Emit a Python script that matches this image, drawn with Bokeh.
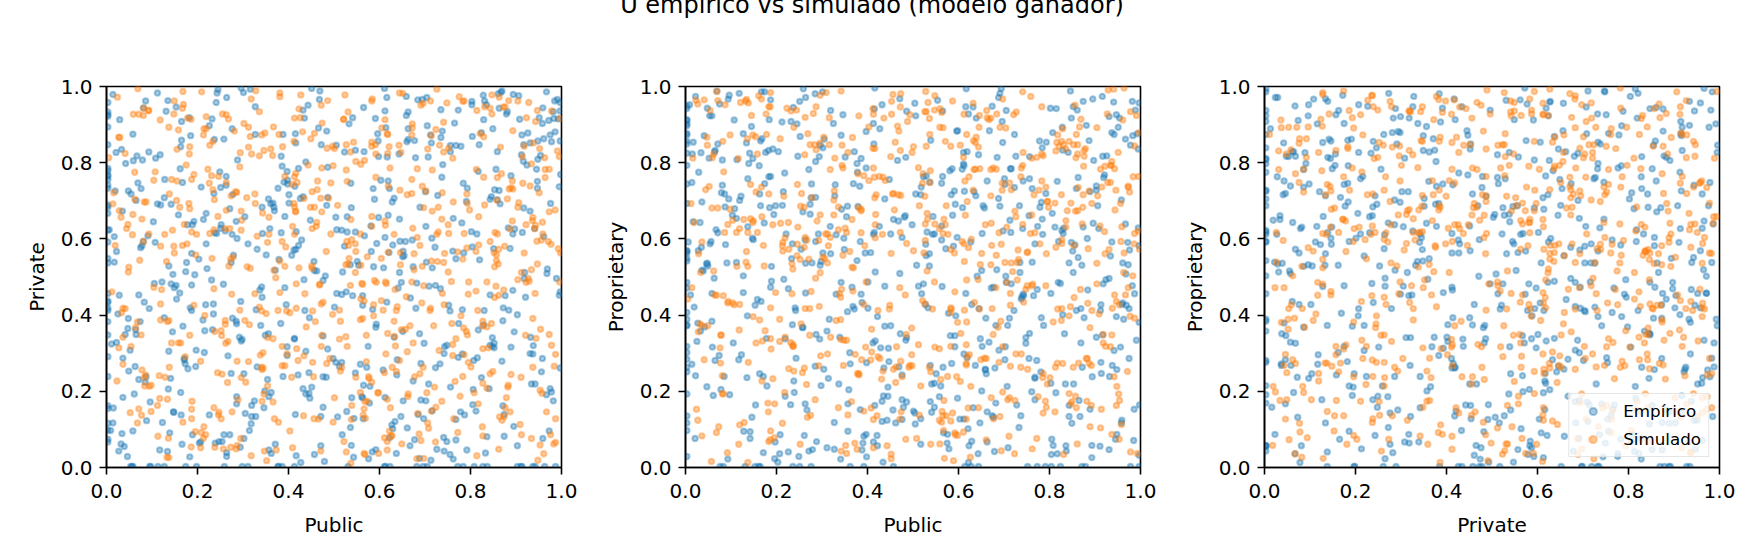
from bokeh.plotting import figure
from bokeh.layouts import column, row
from bokeh.models import (ColumnDataSource, Div, FixedTicker, PrintfTickFormatter,
                          Range1d, Legend, LegendItem)
from bokeh.embed import file_html
from bokeh.resources import INLINE

# --- Data (pseudo-observations, stored in thousandths)
TITLE = "U empírico vs simulado (modelo ganador)"
PAIRS = [("Public", "Private"), ("Public", "Proprietary"), ("Private", "Proprietary")]
SERIES = ["Empírico", "Simulado"]
TICKS = [0.0, 0.2, 0.4, 0.6, 0.8, 1.0]

EMP_PUBLIC = [
    412, 87, 765, 3, 538, 921, 264, 679, 145, 853, 331, 58, 997, 476, 702, 189, 614, 938, 247, 820,
    563, 128, 3, 894, 371, 645, 22, 756, 483, 219, 968, 305, 837, 591, 74, 426, 688, 153, 912, 267,
    735, 41, 359, 806, 3, 622, 174, 947, 501, 286, 869, 113, 438, 781, 654, 9, 327, 572, 236, 995,
    184, 659, 903, 342, 517, 67, 778, 3, 451, 233, 846, 612, 95, 388, 726, 975, 161, 544, 817, 298,
    865, 318, 3, 592, 137, 704, 421, 959, 252, 680, 36, 533, 889, 174, 407, 748, 611, 83, 276, 931,
    457, 722, 208, 3, 961, 346, 585, 119, 803, 674, 52, 390, 937, 258, 506, 163, 779, 641, 997, 29,
    619, 94, 871, 432, 3, 287, 756, 543, 196, 918, 369, 705, 14, 484, 632, 851, 241, 127, 978, 563,
    302, 986, 517, 149, 661, 3, 829, 413, 75, 748, 235, 598, 903, 366, 171, 694, 457, 812, 47, 586,
    773, 215, 648, 3, 392, 934, 108, 551, 286, 867, 471, 19, 715, 623, 342, 956, 189, 804, 529, 61,
    146, 528, 3, 893, 277, 660, 417, 982, 85, 734, 356, 611, 219, 848, 505, 32, 967, 398, 752, 264,
    889, 361, 713, 58, 3, 476, 192, 627, 945, 235, 803, 554, 127, 691, 414, 997, 276, 869, 6, 538,
    422, 71, 958, 608, 319, 3, 774, 245, 519, 836, 163, 682, 397, 914, 48, 578, 742, 131, 285, 652,
    697, 238, 476, 3, 861, 122, 579, 931, 357, 714, 17, 446, 808, 263, 629, 983, 171, 504, 392, 79,
    35, 815, 566, 294, 3, 739, 187, 652, 908, 413, 261, 973, 537, 97, 682, 354, 824, 148, 469, 716,
    541, 906, 136, 3, 784, 427, 663, 218, 852, 65, 319, 597, 987, 176, 733, 448, 25, 879, 302, 617,
    258, 647, 3, 395, 942, 81, 523, 768, 167, 896, 434, 311, 707, 581, 46, 828, 197, 969, 362, 689,
    824, 377, 709, 165, 3, 547, 292, 978, 438, 621, 112, 863, 53, 755, 498, 226, 644, 916, 331, 584,
    107, 592, 3, 843, 368, 716, 249, 481, 926, 63, 637, 802, 154, 413, 997, 278, 539, 871, 21, 762,
    659, 221, 874, 3, 506, 33, 937, 384, 762, 142, 593, 298, 841, 677, 416, 959, 88, 723, 251, 486,
    383, 948, 158, 612, 3, 830, 471, 69, 703, 296, 547, 185, 963, 422, 634, 11, 791, 337, 874, 232,
    728, 49, 466, 3, 895, 271, 609, 153, 817, 561, 384, 942, 103, 677, 243, 989, 512, 76, 351, 848,
    204, 672, 932, 415, 3, 558, 86, 787, 341, 883, 127, 603, 259, 756, 472, 39, 951, 194, 628, 805,
    917, 325, 587, 3, 742, 182, 436, 856, 58, 688, 991, 279, 531, 401, 141, 814, 663, 362, 28, 773,
    563, 135, 3, 807, 288, 651, 947, 479, 213, 738, 96, 386, 872, 565, 311, 698, 164, 924, 445, 17,
    81, 743, 398, 967, 3, 616, 254, 523, 179, 887, 432, 705, 56, 339, 792, 598, 231, 975, 663, 118,
    476, 859, 212, 3, 644, 998, 327, 71, 782, 536, 165, 913, 401, 274, 691, 833, 14, 567, 349, 737,
    632, 27, 785, 445, 3, 356, 897, 142, 616, 263, 958, 508, 784, 93, 429, 187, 741, 881, 304, 565,
    296, 917, 541, 3, 183, 768, 432, 657, 54, 829, 371, 239, 985, 613, 147, 486, 702, 36, 876, 388,
    849, 173, 3, 622, 961, 397, 105, 735, 518, 285, 674, 827, 42, 456, 993, 216, 589, 328, 761, 134,
    379, 612, 884, 207, 3, 529, 768, 64, 948, 451, 316, 187, 696, 843, 575, 22, 264, 913, 638, 417,
    708, 251, 438, 3, 835, 139, 995, 582, 357, 668, 91, 772, 504, 226, 919, 415, 643, 168, 301, 859,
    162, 893, 667, 343, 3, 712, 48, 486, 831, 564, 203, 954, 377, 117, 619, 782, 295, 443, 982, 536,
    527, 34, 976, 3, 462, 286, 819, 639, 178, 397, 755, 911, 65, 594, 237, 843, 348, 701, 123, 468,
    941, 416, 137, 685, 3, 257, 576, 863, 329, 78, 723, 484, 198, 972, 651, 386, 15, 804, 547, 271,
    314, 768, 596, 3, 112, 931, 242, 447, 684, 852, 59, 378, 517, 793, 166, 997, 629, 274, 903, 435,
]
EMP_PRIVATE = [
    571, 238, 904, 116, 682, 447, 39, 813, 356, 729, 264, 3, 958, 491, 175, 637, 892, 320, 68, 545,
    183, 756, 412, 979, 61, 594, 328, 845, 237, 667, 509, 142, 3, 916, 383, 706, 24, 478, 821, 293,
    866, 349, 627, 205, 933, 78, 514, 751, 421, 186, 988, 3, 305, 642, 556, 97, 874, 263, 719, 452,
    419, 924, 57, 683, 276, 818, 146, 537, 995, 362, 711, 604, 3, 239, 48, 873, 458, 129, 777, 336,
    692, 115, 847, 368, 529, 971, 243, 76, 637, 418, 184, 902, 766, 3, 557, 321, 995, 434, 612, 852,
    34, 578, 736, 291, 863, 157, 415, 689, 952, 527, 308, 749, 3, 86, 624, 197, 843, 471, 261, 913,
    752, 417, 162, 938, 383, 601, 829, 27, 265, 496, 674, 3, 117, 883, 342, 574, 958, 708, 198, 451,
    246, 881, 623, 472, 104, 756, 913, 339, 577, 68, 429, 816, 3, 694, 282, 966, 517, 148, 365, 732,
    938, 302, 486, 74, 659, 219, 812, 541, 377, 985, 134, 726, 602, 3, 447, 251, 86, 869, 618, 193,
    507, 147, 779, 613, 392, 855, 31, 934, 224, 469, 705, 3, 587, 318, 846, 62, 191, 754, 426, 971,
    316, 692, 19, 875, 549, 238, 646, 112, 783, 403, 961, 531, 3, 177, 738, 461, 889, 279, 624, 58,
    785, 453, 903, 256, 134, 667, 378, 992, 513, 81, 842, 3, 294, 617, 726, 169, 43, 935, 384, 568,
    128, 616, 345, 741, 981, 487, 213, 673, 46, 852, 539, 393, 3, 764, 102, 916, 286, 657, 472, 807,
    673, 288, 829, 53, 418, 795, 562, 175, 914, 337, 621, 96, 746, 3, 484, 231, 879, 145, 988, 524,
    451, 976, 206, 592, 746, 13, 889, 427, 314, 701, 163, 857, 3, 538, 272, 649, 403, 928, 76, 815,
    862, 134, 689, 427, 219, 944, 581, 72, 748, 356, 493, 3, 815, 634, 29, 977, 308, 521, 197, 683,
    236, 733, 476, 908, 67, 618, 342, 855, 193, 564, 983, 727, 3, 411, 286, 138, 652, 804, 573, 41,
    591, 47, 958, 321, 683, 149, 776, 503, 878, 265, 37, 619, 442, 3, 936, 717, 183, 385, 827, 654,
    974, 522, 139, 764, 457, 835, 298, 616, 22, 691, 376, 3, 207, 858, 572, 944, 123, 478, 735, 311,
    378, 809, 663, 184, 926, 412, 57, 747, 539, 996, 248, 871, 3, 583, 121, 324, 698, 466, 82, 915,
    714, 253, 891, 437, 108, 679, 524, 946, 361, 186, 817, 3, 645, 73, 983, 496, 265, 732, 558, 341,
    64, 597, 342, 876, 733, 271, 962, 138, 474, 629, 393, 754, 3, 211, 847, 55, 918, 506, 697, 165,
    847, 175, 527, 684, 299, 918, 412, 783, 96, 351, 966, 557, 3, 716, 234, 613, 861, 37, 452, 289,
    426, 963, 98, 281, 807, 553, 733, 16, 651, 883, 172, 3, 419, 945, 587, 326, 138, 794, 249, 606,
    593, 317, 744, 986, 162, 434, 68, 828, 259, 575, 711, 897, 3, 373, 46, 656, 492, 207, 933, 821,
    158, 829, 387, 623, 512, 769, 947, 231, 414, 105, 859, 3, 694, 538, 273, 38, 979, 608, 347, 762,
    707, 43, 563, 195, 894, 351, 626, 482, 971, 741, 286, 133, 3, 828, 597, 412, 79, 934, 658, 216,
    332, 681, 918, 457, 28, 845, 207, 593, 718, 374, 518, 64, 962, 3, 146, 788, 633, 287, 451, 874,
    889, 272, 155, 732, 606, 317, 483, 939, 86, 646, 227, 3, 798, 541, 915, 359, 704, 134, 568, 42,
    546, 936, 413, 67, 785, 658, 126, 362, 857, 211, 993, 479, 3, 704, 318, 567, 29, 873, 243, 619,
    219, 628, 802, 348, 952, 91, 737, 567, 186, 445, 608, 3, 276, 897, 512, 139, 823, 371, 984, 703,
    784, 465, 57, 614, 239, 873, 391, 709, 962, 128, 547, 819, 3, 46, 662, 298, 436, 951, 175, 532,
    461, 89, 693, 922, 516, 167, 847, 283, 637, 777, 34, 3, 349, 588, 861, 453, 201, 724, 118, 966,
    627, 852, 305, 139, 768, 481, 23, 943, 414, 582, 262, 688, 3, 911, 357, 791, 156, 579, 833, 86,
    97, 548, 876, 433, 692, 299, 614, 182, 965, 326, 805, 3, 454, 733, 61, 857, 584, 247, 401, 917,
]
EMP_PROPRIETARY = [
    327, 684, 451, 902, 173, 768, 536, 42, 895, 219, 611, 384, 957, 126, 743, 489, 3, 268, 817, 593,
    746, 95, 563, 238, 829, 417, 974, 352, 661, 187, 508, 862, 43, 726, 294, 633, 971, 3, 412, 151,
    512, 871, 204, 667, 389, 13, 745, 926, 148, 593, 327, 808, 476, 251, 687, 952, 118, 574, 3, 836,
    913, 258, 739, 486, 61, 624, 857, 193, 372, 548, 988, 127, 705, 433, 817, 286, 3, 659, 36, 541,
    176, 633, 942, 317, 758, 502, 84, 428, 869, 261, 697, 419, 153, 986, 564, 341, 827, 3, 708, 47,
    651, 412, 86, 849, 537, 926, 273, 701, 457, 136, 812, 64, 592, 368, 923, 246, 683, 502, 3, 775,
    288, 967, 531, 174, 693, 349, 816, 612, 23, 482, 745, 937, 271, 814, 157, 568, 419, 876, 3, 634,
    839, 153, 716, 598, 246, 877, 401, 67, 954, 326, 587, 182, 728, 473, 39, 995, 3, 631, 212, 784,
    467, 724, 338, 911, 82, 555, 679, 246, 803, 134, 968, 421, 617, 57, 872, 316, 528, 3, 765, 189,
    132, 586, 873, 26, 744, 392, 513, 961, 239, 687, 409, 797, 338, 917, 114, 643, 862, 275, 3, 458,
    724, 301, 649, 457, 913, 178, 836, 592, 74, 375, 221, 964, 503, 686, 849, 32, 3, 417, 592, 268,
    396, 849, 117, 783, 561, 284, 633, 902, 456, 57, 718, 169, 882, 247, 536, 405, 752, 3, 981, 614,
    853, 227, 604, 372, 938, 712, 49, 496, 167, 784, 645, 313, 58, 597, 428, 871, 239, 956, 3, 721,
    578, 942, 263, 816, 135, 447, 965, 318, 627, 903, 84, 532, 749, 191, 373, 658, 3, 811, 264, 482,
    219, 687, 398, 29, 652, 889, 146, 773, 512, 281, 937, 604, 456, 827, 105, 756, 331, 3, 563, 994,
    671, 117, 825, 563, 307, 741, 482, 237, 986, 641, 14, 358, 213, 779, 534, 893, 67, 426, 3, 308,
    483, 798, 52, 687, 949, 221, 613, 846, 371, 102, 538, 761, 923, 286, 637, 41, 3, 974, 455, 716,
    912, 346, 569, 134, 423, 784, 29, 657, 818, 497, 268, 943, 164, 612, 381, 537, 859, 3, 76, 732,
    256, 613, 961, 407, 718, 358, 879, 152, 539, 76, 691, 215, 827, 473, 996, 124, 585, 735, 3, 341,
    738, 87, 441, 792, 263, 614, 509, 988, 317, 846, 158, 682, 389, 57, 724, 453, 3, 219, 631, 908,
    164, 529, 806, 318, 967, 43, 682, 426, 751, 214, 593, 874, 662, 132, 287, 938, 476, 3, 815, 591,
    829, 471, 239, 941, 568, 186, 718, 373, 22, 601, 459, 127, 994, 758, 351, 516, 893, 664, 3, 74,
    348, 903, 662, 117, 455, 832, 261, 584, 923, 706, 334, 47, 618, 487, 825, 196, 752, 272, 569, 3,
    597, 236, 744, 879, 68, 517, 396, 158, 688, 442, 977, 811, 263, 936, 52, 621, 3, 493, 187, 854,
    807, 451, 28, 639, 302, 947, 573, 763, 214, 858, 121, 486, 593, 342, 719, 884, 165, 417, 67, 982,
    243, 732, 907, 486, 821, 164, 48, 616, 393, 529, 857, 276, 418, 665, 982, 351, 748, 91, 572, 136,
    946, 379, 612, 211, 549, 686, 806, 94, 457, 167, 702, 531, 839, 22, 314, 473, 627, 898, 258, 764,
    531, 817, 145, 374, 763, 234, 952, 681, 587, 833, 416, 197, 71, 725, 602, 935, 283, 518, 393, 46,
    116, 642, 793, 928, 432, 87, 327, 538, 736, 266, 948, 622, 369, 151, 876, 494, 581, 713, 199, 852,
    685, 298, 466, 36, 897, 556, 178, 828, 257, 613, 389, 764, 908, 537, 64, 241, 971, 427, 713, 332,
    373, 961, 705, 542, 219, 798, 629, 346, 95, 884, 537, 281, 143, 469, 761, 617, 36, 863, 986, 412,
    792, 58, 329, 678, 856, 392, 943, 172, 628, 475, 14, 917, 543, 283, 829, 696, 337, 124, 477, 561,
    428, 826, 571, 251, 117, 709, 486, 917, 339, 786, 661, 56, 832, 398, 945, 163, 602, 758, 296, 647,
    959, 163, 632, 814, 471, 367, 87, 551, 742, 205, 874, 334, 687, 591, 201, 455, 823, 34, 613, 782,
    234, 587, 883, 97, 654, 921, 412, 278, 519, 947, 316, 775, 128, 854, 436, 582, 69, 691, 342, 188,
]

SIM_PUBLIC = [
    634, 182, 957, 413, 76, 748, 295, 861, 527, 138, 906, 369, 672, 41, 583, 814, 227, 459, 993, 306,
    118, 795, 462, 287, 931, 563, 27, 674, 346, 852, 209, 711, 488, 967, 155, 392, 628, 83, 537, 846,
    921, 354, 618, 83, 775, 246, 497, 986, 132, 687, 413, 59, 839, 561, 271, 704, 938, 186, 326, 472,
    457, 869, 33, 724, 316, 592, 843, 167, 948, 261, 632, 485, 117, 783, 397, 24, 659, 922, 548, 208,
    783, 246, 691, 512, 98, 937, 368, 626, 214, 473, 801, 154, 977, 336, 559, 708, 62, 883, 439, 187,
    294, 617, 875, 158, 443, 23, 729, 381, 564, 997, 104, 826, 257, 673, 912, 497, 342, 168, 786, 619,
    566, 47, 338, 829, 671, 219, 954, 493, 86, 762, 318, 591, 436, 188, 847, 635, 971, 274, 113, 706,
    862, 423, 138, 596, 983, 351, 647, 207, 818, 531, 68, 378, 726, 915, 254, 473, 587, 29, 694, 344,
    173, 738, 569, 296, 412, 857, 93, 682, 341, 964, 227, 611, 793, 449, 136, 526, 881, 662, 318, 958,
    645, 914, 253, 471, 726, 134, 589, 16, 863, 392, 714, 548, 281, 937, 613, 78, 426, 795, 187, 532,
    396, 558, 821, 73, 947, 614, 238, 785, 452, 183, 671, 904, 354, 522, 19, 843, 267, 416, 752, 887,
    928, 167, 407, 683, 262, 831, 566, 341, 724, 48, 976, 149, 612, 287, 493, 719, 862, 539, 94, 365,
    218, 702, 946, 529, 112, 387, 854, 637, 69, 476, 252, 798, 538, 963, 336, 177, 605, 911, 419, 751,
    751, 36, 583, 864, 434, 691, 196, 922, 319, 571, 843, 268, 134, 646, 777, 452, 58, 373, 987, 213,
    472, 893, 121, 308, 677, 547, 973, 77, 836, 263, 409, 721, 964, 195, 583, 326, 743, 644, 236, 817,
    107, 624, 793, 451, 186, 944, 352, 527, 683, 812, 36, 498, 278, 571, 923, 763, 161, 403, 611, 872,
    857, 328, 514, 987, 261, 716, 453, 149, 598, 379, 893, 633, 81, 417, 296, 558, 826, 752, 12, 644,
    539, 198, 866, 632, 758, 92, 415, 849, 234, 961, 573, 348, 706, 181, 648, 934, 472, 269, 583, 377,
    316, 761, 49, 413, 879, 537, 661, 293, 942, 128, 786, 456, 216, 889, 62, 714, 347, 998, 526, 183,
    693, 471, 934, 171, 543, 266, 82, 727, 386, 617, 996, 245, 567, 812, 434, 137, 671, 521, 859, 304,
    44, 856, 312, 689, 947, 403, 792, 558, 158, 486, 342, 874, 119, 639, 741, 297, 978, 213, 615, 464,
    882, 234, 657, 529, 71, 818, 366, 943, 617, 293, 559, 14, 768, 431, 187, 853, 524, 696, 331, 929,
    367, 598, 145, 796, 312, 661, 918, 247, 483, 54, 737, 876, 392, 608, 953, 261, 116, 463, 814, 573,
    618, 973, 474, 236, 859, 119, 528, 381, 766, 643, 214, 452, 984, 87, 336, 697, 583, 827, 273, 148,
    226, 517, 836, 361, 649, 783, 27, 904, 175, 559, 417, 663, 829, 296, 512, 943, 381, 71, 738, 604,
    934, 148, 276, 587, 416, 952, 689, 133, 862, 327, 618, 791, 466, 231, 57, 577, 712, 884, 346, 491,
    501, 772, 619, 93, 827, 244, 473, 696, 357, 987, 183, 536, 302, 741, 868, 412, 627, 163, 927, 255,
    137, 354, 941, 712, 273, 568, 816, 448, 622, 41, 792, 263, 937, 119, 684, 501, 386, 858, 576, 723,
    786, 623, 207, 468, 991, 343, 129, 759, 531, 876, 286, 604, 413, 672, 236, 953, 64, 527, 178, 394,
    453, 909, 583, 284, 137, 676, 904, 312, 78, 731, 469, 827, 192, 548, 381, 716, 892, 646, 433, 5,
    694, 81, 742, 836, 521, 409, 263, 593, 973, 155, 621, 344, 887, 68, 779, 232, 457, 169, 951, 568,
    275, 831, 418, 617, 729, 885, 52, 386, 223, 697, 918, 514, 651, 357, 484, 592, 808, 936, 104, 741,
    912, 366, 192, 533, 289, 761, 613, 847, 461, 314, 84, 978, 237, 873, 547, 168, 732, 421, 667, 32,
    584, 697, 827, 36, 408, 238, 956, 498, 671, 892, 372, 143, 566, 761, 219, 637, 28, 309, 813, 455,
    143, 423, 508, 772, 853, 612, 341, 187, 737, 536, 959, 285, 714, 427, 98, 889, 563, 995, 252, 676,
]
SIM_PRIVATE = [
    467, 823, 195, 612, 348, 957, 76, 534, 781, 263, 695, 128, 902, 417, 659, 31, 846, 383, 574, 224,
    912, 276, 643, 58, 739, 481, 867, 327, 193, 564, 986, 412, 707, 146, 835, 528, 263, 697, 11, 378,
    347, 591, 824, 236, 973, 138, 402, 676, 541, 88, 763, 927, 314, 483, 627, 196, 852, 54, 718, 429,
    683, 124, 406, 887, 523, 762, 246, 943, 19, 376, 612, 838, 181, 547, 298, 972, 448, 637, 803, 92,
    239, 764, 951, 413, 147, 656, 518, 82, 889, 347, 264, 701, 586, 934, 443, 103, 775, 216, 369, 618,
    826, 68, 581, 327, 794, 227, 683, 459, 138, 916, 754, 371, 49, 628, 512, 843, 174, 987, 296, 565,
    154, 638, 295, 762, 487, 921, 363, 613, 243, 697, 31, 847, 456, 174, 978, 319, 593, 713, 82, 836,
    573, 941, 718, 196, 62, 404, 827, 279, 658, 534, 382, 119, 993, 746, 245, 671, 427, 866, 528, 301,
    291, 457, 129, 673, 856, 558, 937, 23, 411, 782, 614, 249, 348, 863, 77, 532, 705, 186, 967, 644,
    728, 816, 346, 43, 612, 179, 491, 721, 972, 267, 148, 567, 883, 391, 636, 256, 918, 455, 128, 583,
    411, 197, 876, 544, 937, 298, 53, 366, 627, 842, 719, 493, 214, 68, 583, 943, 331, 772, 614, 146,
    958, 583, 237, 784, 326, 689, 437, 873, 158, 513, 86, 962, 647, 279, 747, 372, 48, 598, 213, 819,
    86, 726, 594, 318, 163, 842, 617, 252, 994, 434, 359, 676, 126, 813, 421, 587, 891, 237, 748, 513,
    637, 342, 962, 133, 706, 71, 558, 486, 823, 278, 593, 915, 383, 532, 187, 724, 664, 46, 297, 873,
    318, 884, 467, 708, 238, 512, 783, 137, 369, 926, 633, 211, 761, 94, 854, 456, 562, 983, 624, 167,
    776, 157, 693, 529, 914, 339, 18, 847, 604, 463, 271, 792, 552, 347, 918, 128, 683, 406, 78, 946,
    543, 989, 253, 66, 627, 781, 411, 563, 196, 874, 731, 344, 924, 482, 236, 613, 107, 838, 461, 281,
    163, 612, 841, 384, 488, 937, 671, 252, 729, 36, 553, 878, 117, 693, 362, 797, 951, 529, 224, 412,
    869, 294, 526, 917, 183, 651, 304, 789, 457, 612, 962, 128, 399, 244, 704, 871, 43, 563, 343, 679,
    432, 707, 76, 638, 854, 223, 943, 541, 318, 179, 487, 659, 806, 567, 293, 26, 756, 914, 613, 386,
    627, 476, 893, 246, 534, 96, 718, 388, 886, 963, 257, 134, 581, 422, 828, 649, 321, 77, 483, 752,
    211, 856, 363, 751, 927, 584, 172, 636, 46, 413, 796, 692, 338, 881, 153, 527, 978, 263, 607, 489,
    894, 37, 623, 487, 278, 716, 843, 145, 567, 318, 652, 946, 764, 413, 59, 386, 241, 729, 937, 174,
    352, 671, 904, 157, 761, 429, 593, 973, 226, 846, 107, 523, 266, 697, 818, 477, 633, 384, 53, 581,
    746, 263, 487, 836, 62, 961, 314, 683, 794, 531, 418, 193, 868, 623, 337, 908, 542, 154, 721, 438,
    519, 928, 146, 398, 673, 837, 583, 27, 452, 693, 874, 357, 127, 766, 611, 234, 418, 963, 832, 286,
    183, 566, 738, 613, 312, 249, 786, 956, 612, 128, 347, 478, 903, 538, 771, 693, 84, 327, 496, 928,
    893, 341, 627, 962, 547, 173, 412, 683, 96, 824, 576, 748, 263, 387, 142, 837, 593, 701, 238, 67,
    614, 786, 52, 479, 831, 668, 237, 378, 933, 157, 722, 549, 684, 891, 469, 203, 367, 41, 917, 579,
    276, 113, 843, 724, 386, 519, 962, 841, 652, 307, 481, 83, 426, 237, 983, 673, 752, 564, 136, 813,
    738, 593, 427, 208, 914, 52, 675, 486, 349, 752, 842, 261, 626, 117, 398, 549, 877, 953, 721, 34,
    455, 947, 312, 876, 618, 731, 144, 267, 783, 24, 563, 384, 982, 657, 273, 823, 196, 648, 473, 906,
    86, 338, 769, 549, 178, 812, 487, 928, 633, 375, 214, 936, 703, 466, 587, 119, 846, 281, 372, 657,
    967, 682, 221, 418, 743, 357, 597, 119, 873, 647, 498, 756, 37, 323, 889, 412, 674, 527, 782, 238,
    327, 524, 688, 92, 446, 913, 263, 756, 174, 828, 613, 49, 542, 978, 216, 734, 391, 816, 128, 561,
]
SIM_PROPRIETARY = [
    782, 146, 593, 927, 314, 468, 851, 62, 639, 276, 713, 524, 183, 965, 407, 831, 259, 676, 37, 548,
    361, 698, 223, 834, 572, 119, 954, 417, 786, 263, 641, 82, 908, 453, 327, 766, 599, 193, 874, 422,
    619, 37, 874, 451, 186, 743, 296, 587, 962, 368, 126, 813, 674, 231, 547, 891, 418, 73, 702, 946,
    258, 914, 512, 673, 847, 91, 398, 736, 213, 578, 956, 349, 61, 823, 487, 153, 637, 791, 316, 863,
    947, 586, 134, 322, 678, 803, 463, 27, 591, 714, 236, 868, 397, 624, 942, 178, 516, 286, 753, 419,
    423, 273, 791, 617, 57, 964, 538, 682, 147, 879, 432, 716, 249, 583, 104, 366, 988, 658, 818, 292,
    136, 867, 456, 889, 713, 342, 176, 926, 617, 49, 782, 563, 917, 311, 694, 433, 252, 847, 528, 631,
    674, 412, 957, 238, 503, 628, 784, 331, 873, 516, 92, 247, 658, 736, 377, 981, 143, 561, 44, 793,
    529, 786, 24, 663, 942, 187, 638, 472, 336, 996, 573, 814, 158, 426, 863, 712, 286, 937, 604, 113,
    893, 153, 686, 472, 298, 567, 18, 812, 735, 428, 266, 639, 929, 87, 541, 347, 764, 219, 984, 652,
    316, 627, 843, 107, 436, 752, 893, 236, 562, 68, 917, 482, 334, 771, 643, 194, 597, 837, 258, 726,
    748, 967, 282, 557, 821, 34, 614, 388, 176, 846, 723, 396, 587, 947, 268, 514, 823, 61, 436, 173,
    197, 538, 728, 934, 617, 283, 446, 853, 987, 238, 61, 683, 779, 512, 157, 928, 352, 634, 716, 477,
    564, 83, 419, 274, 762, 893, 167, 561, 342, 637, 856, 132, 966, 416, 728, 23, 681, 297, 844, 582,
    832, 693, 958, 613, 128, 487, 736, 274, 648, 417, 303, 926, 563, 78, 843, 663, 434, 157, 521, 274,
    427, 296, 561, 816, 947, 676, 58, 429, 783, 146, 592, 267, 708, 856, 318, 481, 976, 753, 93, 639,
    673, 812, 137, 392, 261, 537, 927, 648, 84, 771, 412, 858, 241, 603, 977, 124, 386, 566, 693, 841,
    251, 459, 894, 728, 614, 39, 762, 173, 456, 912, 687, 334, 486, 169, 533, 793, 617, 876, 318, 48,
    918, 663, 372, 52, 837, 748, 286, 596, 238, 651, 143, 979, 712, 367, 823, 426, 268, 573, 934, 718,
    384, 127, 748, 583, 416, 218, 856, 933, 677, 322, 764, 556, 97, 694, 253, 617, 782, 438, 157, 867,
    729, 951, 613, 276, 163, 894, 477, 312, 823, 588, 43, 716, 428, 867, 638, 293, 934, 116, 662, 317,
    174, 535, 287, 843, 963, 416, 651, 784, 127, 267, 893, 472, 616, 232, 96, 847, 563, 728, 386, 991,
    866, 381, 924, 698, 537, 72, 349, 631, 453, 937, 263, 817, 148, 593, 427, 683, 811, 264, 578, 136,
    492, 738, 146, 318, 874, 627, 987, 243, 716, 493, 568, 35, 763, 952, 684, 317, 122, 856, 417, 643,
    643, 214, 836, 567, 283, 752, 124, 892, 359, 62, 637, 918, 273, 511, 787, 453, 923, 681, 298, 846,
    317, 873, 462, 962, 708, 193, 616, 539, 847, 726, 382, 174, 896, 328, 16, 612, 747, 431, 557, 263,
    842, 76, 698, 432, 588, 938, 279, 746, 138, 614, 947, 263, 552, 793, 467, 838, 213, 387, 928, 719,
    528, 617, 993, 183, 347, 652, 853, 416, 577, 283, 736, 604, 348, 112, 928, 569, 674, 813, 239, 36,
    247, 763, 389, 716, 924, 468, 118, 974, 667, 832, 497, 226, 786, 641, 323, 74, 453, 596, 874, 582,
    961, 403, 572, 847, 13, 786, 536, 298, 348, 571, 883, 417, 637, 976, 246, 729, 163, 924, 612, 442,
    586, 194, 827, 631, 746, 363, 919, 86, 472, 723, 156, 846, 273, 452, 587, 936, 719, 332, 827, 176,
    137, 847, 664, 269, 492, 574, 738, 616, 943, 198, 327, 687, 562, 827, 74, 461, 382, 793, 649, 986,
    783, 526, 233, 958, 647, 812, 413, 167, 854, 582, 776, 41, 318, 683, 938, 227, 546, 136, 913, 377,
    416, 967, 598, 372, 156, 253, 693, 827, 532, 268, 64, 743, 892, 477, 603, 783, 356, 984, 263, 718,
    653, 291, 76, 814, 583, 927, 447, 338, 763, 916, 632, 178, 457, 286, 873, 107, 932, 621, 546, 349,
]

BLUE = "#1f77b4"
ORANGE = "#ff7f0e"
FONT = "DejaVu Sans"


def make_source(pub, priv, prop):
    n = min(len(pub), len(priv), len(prop))
    return ColumnDataSource(dict(
        Public=[v / 1000 for v in pub[:n]],
        Private=[v / 1000 for v in priv[:n]],
        Proprietary=[v / 1000 for v in prop[:n]],
    ))


emp_src = make_source(EMP_PUBLIC, EMP_PRIVATE, EMP_PROPRIETARY)
sim_src = make_source(SIM_PUBLIC, SIM_PRIVATE, SIM_PROPRIETARY)


def style_axis(ax, label, label_standoff=7, title_standoff=9):
    ax.axis_label = label
    ax.ticker = FixedTicker(ticks=TICKS)
    ax.formatter = PrintfTickFormatter(format="%.1f")
    ax.major_label_text_font = FONT
    ax.major_label_text_font_size = "20px"
    ax.major_label_text_color = "black"
    ax.major_label_standoff = label_standoff
    ax.axis_label_text_font = FONT
    ax.axis_label_text_font_size = "20px"
    ax.axis_label_text_font_style = "normal"
    ax.axis_label_text_color = "black"
    ax.axis_label_standoff = title_standoff
    ax.axis_line_color = "black"
    ax.axis_line_width = 1.6
    ax.major_tick_line_color = "black"
    ax.major_tick_line_width = 1.6
    ax.major_tick_out = 7
    ax.major_tick_in = 0
    ax.minor_tick_out = 0
    ax.minor_tick_in = 0


def make_panel(xname, yname, left_border, with_legend=False):
    p = figure(frame_width=455, frame_height=381,
               x_range=Range1d(0, 1), y_range=Range1d(0, 1),
               min_border_left=left_border, min_border_right=26,
               min_border_top=65, min_border_bottom=72,
               output_backend="svg", toolbar_location=None, tools="")
    p.xgrid.visible = False
    p.ygrid.visible = False
    p.outline_line_color = "black"
    p.outline_line_width = 1.6
    p.outline_line_alpha = 1.0
    style_axis(p.xaxis[0], xname, label_standoff=9, title_standoff=12)
    style_axis(p.yaxis[0], yname)

    r_emp = p.scatter(xname, yname, source=emp_src, size=5.4, line_width=2,
                      fill_color=BLUE, line_color=BLUE, fill_alpha=0.4, line_alpha=0.4)
    r_sim = p.scatter(xname, yname, source=sim_src, size=5.4, line_width=2,
                      fill_color=ORANGE, line_color=ORANGE, fill_alpha=0.4, line_alpha=0.4)

    if with_legend:
        legend = Legend(items=[LegendItem(label=SERIES[0], renderers=[r_emp]),
                               LegendItem(label=SERIES[1], renderers=[r_sim])],
                        location="bottom_right", margin=10, padding=7, spacing=8,
                        glyph_width=33, glyph_height=18, label_height=18,
                        label_standoff=14, label_text_font=FONT,
                        label_text_font_size="16.7px", label_text_color="black",
                        border_line_color="#cccccc", border_line_width=1.5,
                        background_fill_color="white", background_fill_alpha=0.8)
        p.add_layout(legend)
    return p


# the page has no margin of its own, so the first panel carries the offset
panels = [make_panel(x, y, 106 if i == 0 else 98, with_legend=(i == 2))
          for i, (x, y) in enumerate(PAIRS)]

title = Div(text=TITLE, width=1744, height=30, margin=(-9, 0, 0, 0),
            styles={"font-family": FONT, "font-size": "24px", "line-height": "28px",
                    "text-align": "center", "color": "black"})

layout = column(title, row(*panels))

open("out.html", "w").write(file_html(layout, INLINE))
